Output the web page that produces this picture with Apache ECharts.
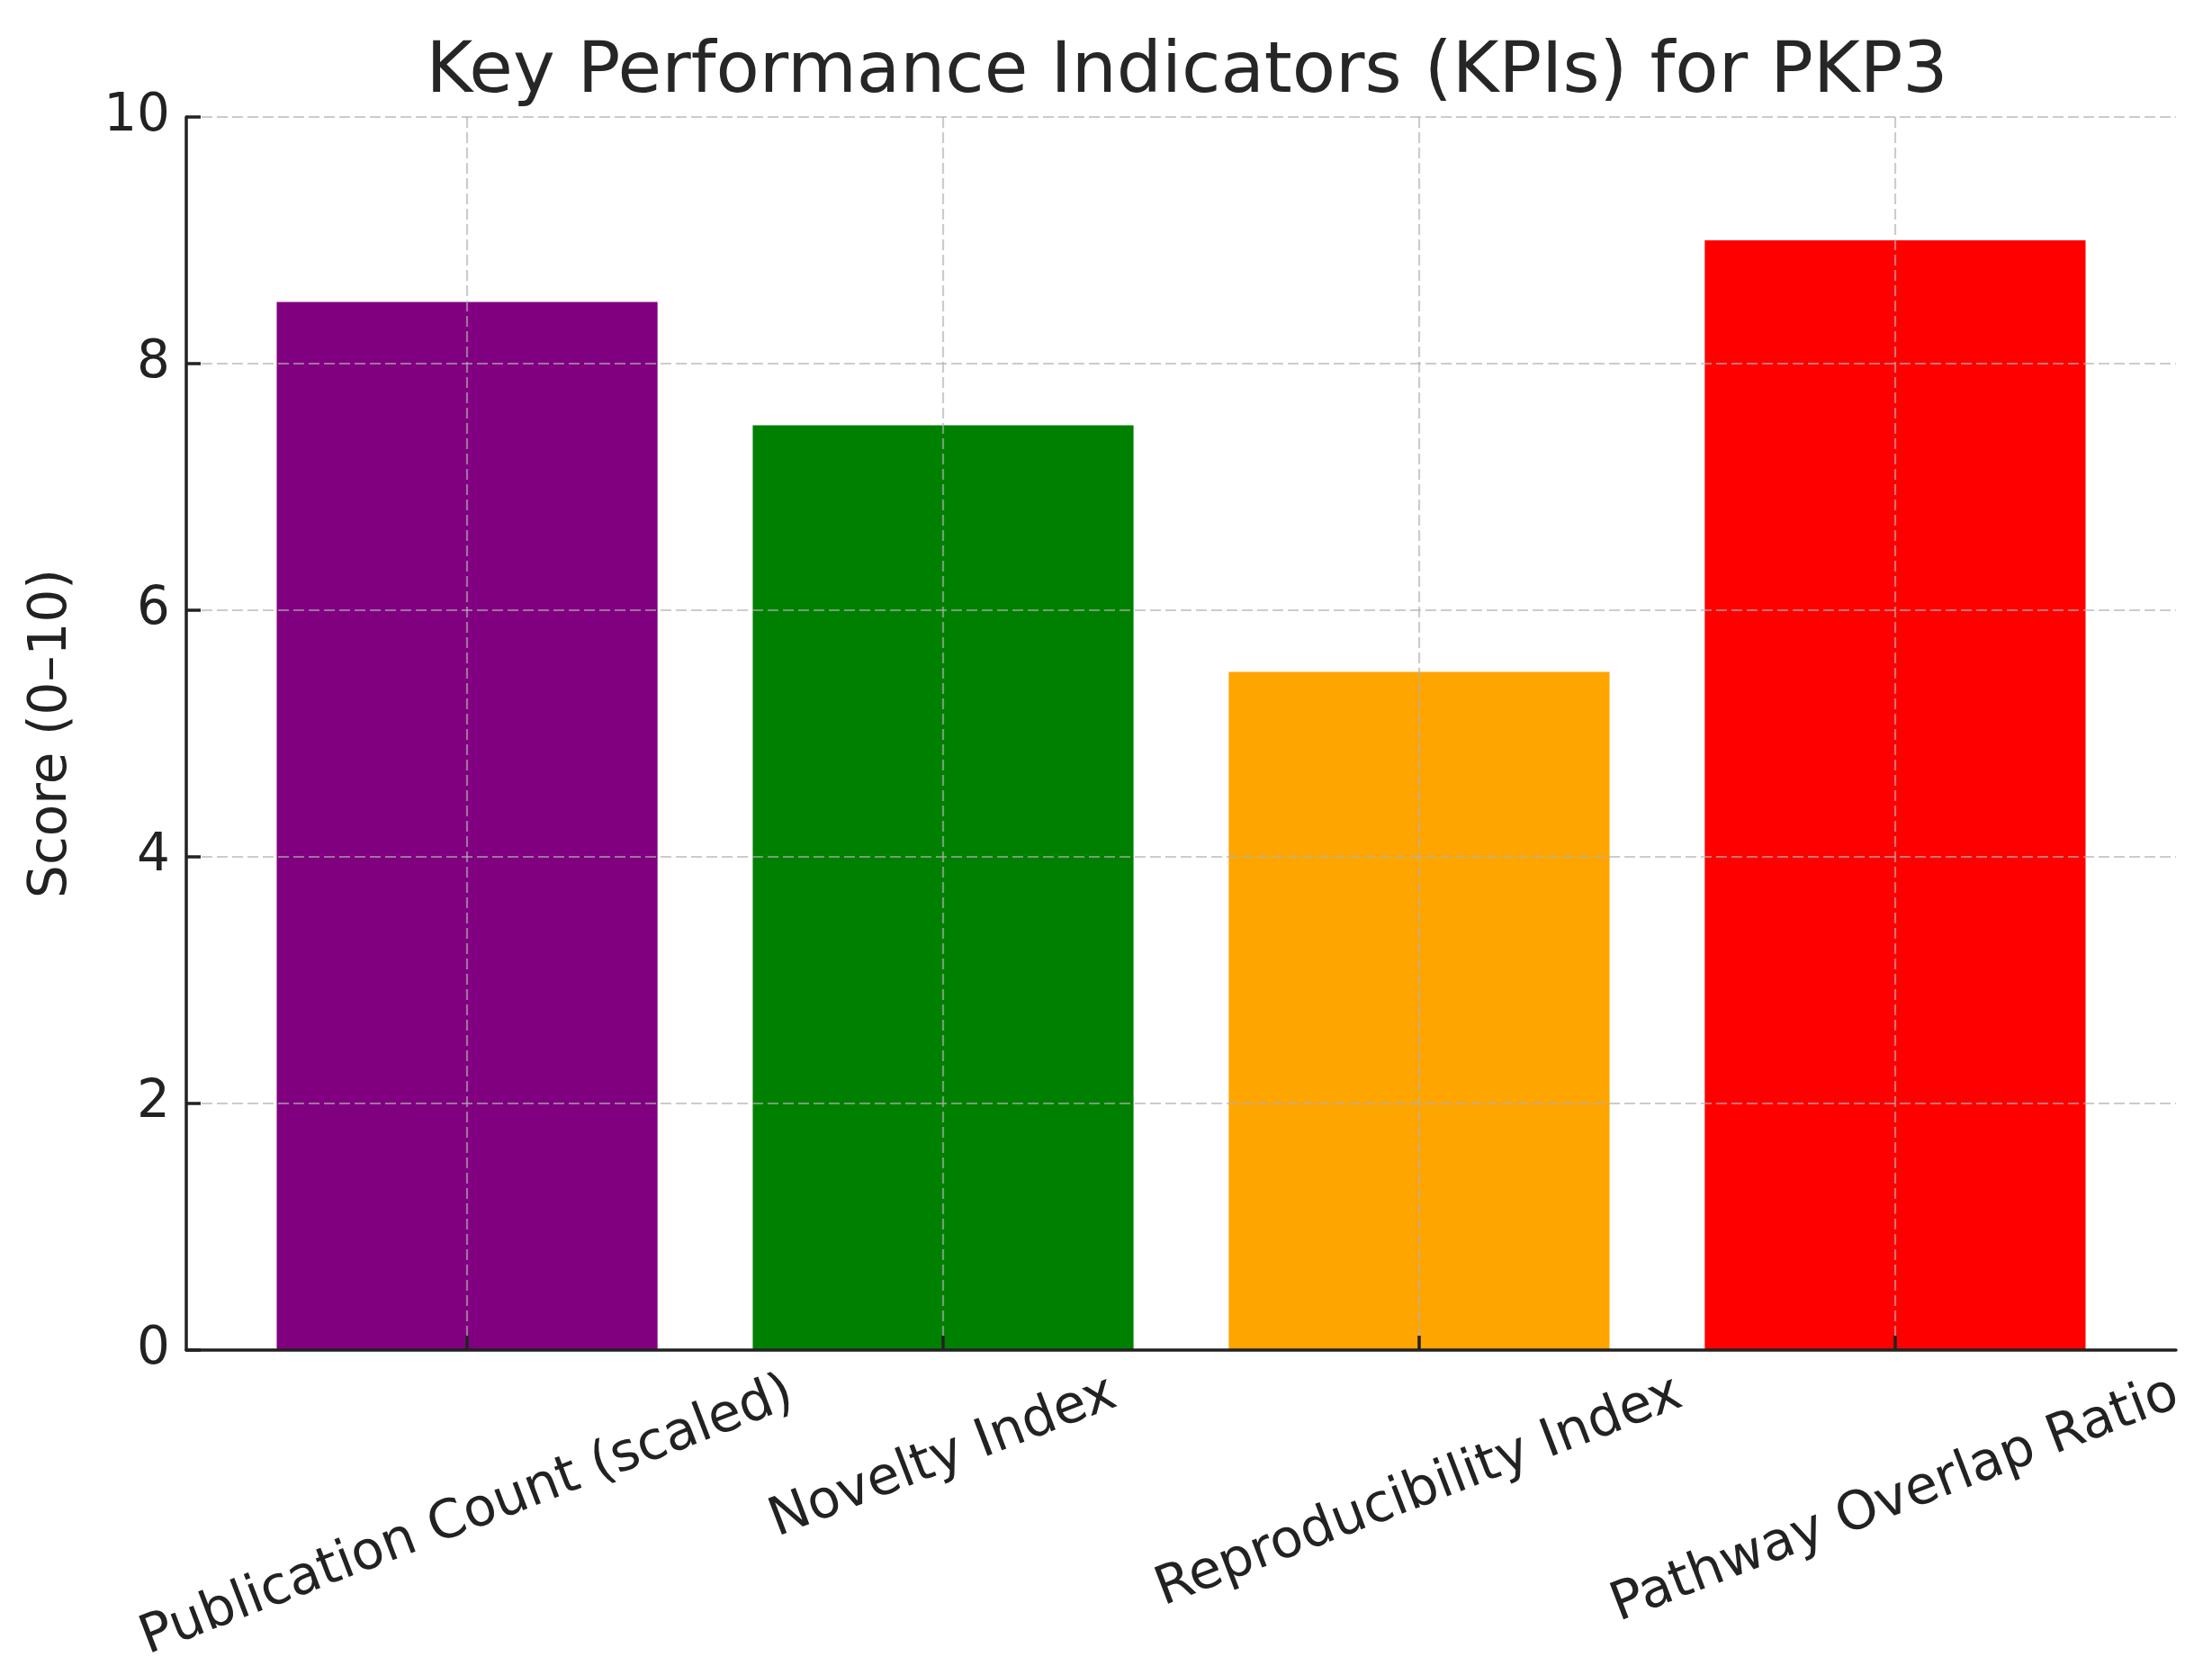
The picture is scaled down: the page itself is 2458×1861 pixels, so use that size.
<!DOCTYPE html>
<html>
<head>
<meta charset="utf-8">
<script src="https://cdn.jsdelivr.net/npm/echarts@6/dist/echarts.min.js"></script>
<style>
html,body{margin:0;padding:0;background:#fff;}
#chart{width:2458px;height:1861px;}
</style>
</head>
<body>
<div id="chart"></div>
<script>
const categories = ['Publication Count (scaled)', 'Novelty Index', 'Reproducibility Index', 'Pathway Overlap Ratio'];
const scores = [8.5, 7.5, 5.5, 9.0];
const barColors = ['#800080', '#008000', '#FFA500', '#FF0000'];
const yTicks = [0, 2, 4, 6, 8, 10];

const FONT = 'DejaVu Sans';
const LABEL_SIZE = 58;
const XLABEL_SIZE = 59;
const ROT = 21;
const PAD = 21;

const ctx = document.createElement('canvas').getContext('2d');
ctx.font = XLABEL_SIZE + 'px "' + FONT + '"';
const th = ROT * Math.PI / 180;
const rich = {};
categories.forEach(function (c, i) {
  const L = ctx.measureText(c).width;
  const D = PAD + (L * Math.sin(th) + XLABEL_SIZE * 0.94 * Math.cos(th)) / 2;
  rich['p' + i] = {
    fontSize: XLABEL_SIZE, fontFamily: FONT, color: '#222',
    padding: [2 * D * Math.cos(th), 2 * D * Math.sin(th), 0, 0]
  };
});

const gridLine = { show: true, lineStyle: { type: [12, 5], color: 'rgba(176,176,176,0.65)', width: 2.2 } };
const axisLineStyle = { color: '#222', width: 3.5 };

const chart = echarts.init(document.getElementById('chart'));
chart.setOption({
  backgroundColor: '#ffffff',
  animation: false,
  title: {
    text: 'Key Performance Indicators (KPIs) for PKP3',
    left: 1314, textAlign: 'center', top: 36,
    textStyle: { fontFamily: FONT, fontSize: 79, fontWeight: 'normal', color: '#262626', lineHeight: 80 }
  },
  grid: { left: 207, right: 40, top: 130, bottom: 361, containLabel: false, outerBoundsMode: 'none' },
  xAxis: {
    type: 'value', min: -0.59, max: 3.59, z: 3,
    axisLine: { show: true, onZero: false, lineStyle: axisLineStyle },
    axisTick: { show: true, inside: true, length: 16, lineStyle: axisLineStyle, customValues: [0, 1, 2, 3] },
    splitLine: gridLine,
    axisLabel: {
      customValues: [0, 1, 2, 3], rotate: ROT, align: 'center', verticalAlign: 'middle', margin: 0,
      formatter: function (v) { const i = Math.round(v); return '{p' + i + '|' + categories[i] + '}'; },
      rich: rich
    }
  },
  yAxis: {
    type: 'value', min: 0, max: 10, interval: 2, z: 3,
    name: 'Score (0–10)', nameLocation: 'middle', nameRotate: 90, nameGap: 120,
    nameTextStyle: { fontFamily: FONT, fontSize: LABEL_SIZE, color: '#222' },
    axisLine: { show: true, onZero: false, lineStyle: axisLineStyle },
    axisTick: { show: true, inside: true, length: 16, lineStyle: axisLineStyle },
    splitLine: gridLine,
    axisLabel: { fontFamily: FONT, fontSize: LABEL_SIZE, color: '#222', margin: 18,
      formatter: function (v) { return yTicks.indexOf(v) >= 0 ? String(v) : ''; } }
  },
  series: [{
    type: 'bar', barWidth: '80%', z: 2,
    data: scores.map(function (s, i) { return { value: [i, s], itemStyle: { color: barColors[i] } }; })
  }]
});
</script>
</body>
</html>
